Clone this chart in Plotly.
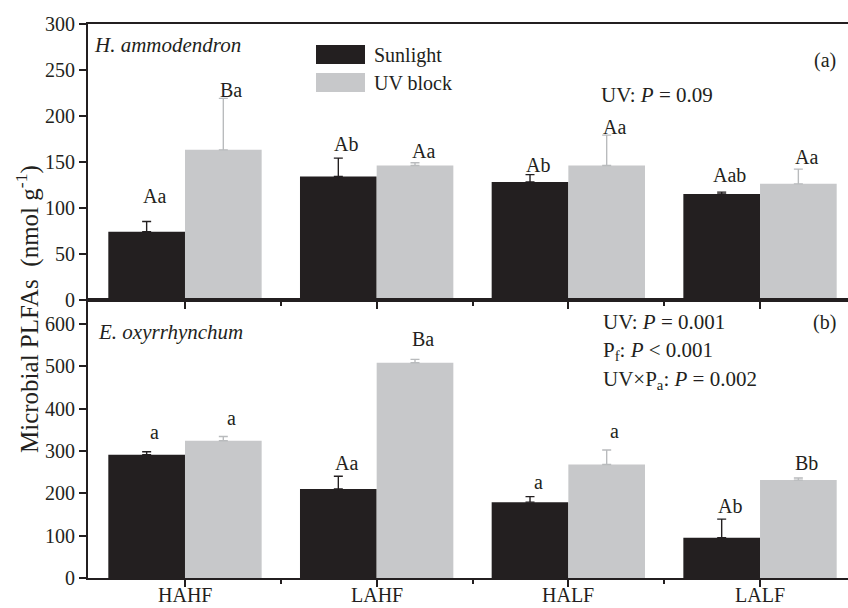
import plotly.graph_objects as go

# Treatment groups and measured microbial PLFAs (nmol g-1)
categories = ["HAHF", "LAHF", "HALF", "LALF"]

ha_sun = [74, 134, 128, 115]
ha_sun_err = [11, 20, 8, 2]
ha_uv = [163, 146, 146, 126]
ha_uv_err = [56, 3, 33, 16]

eo_sun = [291, 210, 179, 95]
eo_sun_err = [7, 30, 13, 44]
eo_uv = [324, 508, 268, 231]
eo_uv_err = [10, 8, 34, 5]

# Significance letters above each bar
ha_sun_letters = ["Aa", "Ab", "Ab", "Aab"]
ha_uv_letters = ["Ba", "Aa", "Aa", "Aa"]
eo_sun_letters = ["a", "Aa", "a", "Ab"]
eo_uv_letters = ["a", "Ba", "a", "Bb"]

# ---- styling / layout ----
W, H = 848, 608
ML, MR, MT, MB = 88, 0, 24, 30
PW, PH = W - ML - MR, H - MT - MB
SPLIT = 0.5025

DARK = "#231f20"
GREY = "#c7c8ca"
GREY_ERR = "#b9bbbd"
FONT = "Liberation Serif, Times New Roman, serif"

# pixel gaps between the error-bar tip and the centre of each letter label
ha_sun_gap = [26, 14, 10, 17]
ha_uv_gap = [8, 12, 8, 12]
eo_sun_gap = [20, 13, 15, 13]
eo_uv_gap = [18, 20, 19, 15]

xpos = list(range(len(categories)))


def px(x, y):
    """Convert page pixels to paper coordinates."""
    return (x - ML) / PW, (MT + PH - y) / PH


def bar(vals, errs, color, ecolor, name, xa, ya):
    return go.Bar(
        x=xpos, y=vals, name=name, marker=dict(color=color, line=dict(width=0)),
        error_y=dict(type="data", array=errs, arrayminus=[0] * len(errs),
                     symmetric=False, color=ecolor, thickness=1.4, width=4.5),
        xaxis=xa, yaxis=ya, showlegend=False,
    )


fig = go.Figure()
fig.add_trace(bar(ha_sun, ha_sun_err, DARK, DARK, "Sunlight", "x", "y"))
fig.add_trace(bar(ha_uv, ha_uv_err, GREY, GREY_ERR, "UV block", "x", "y"))
fig.add_trace(bar(eo_sun, eo_sun_err, DARK, DARK, "Sunlight", "x2", "y2"))
fig.add_trace(bar(eo_uv, eo_uv_err, GREY, GREY_ERR, "UV block", "x2", "y2"))

annotations = []
BAR_OFF = 0.2


def letters(vals, errs, labels, gaps, side, xref, yref):
    for i, (v, e, t, g) in enumerate(zip(vals, errs, labels, gaps)):
        annotations.append(dict(
            x=i + side * BAR_OFF, y=v + e, xref=xref, yref=yref, text=t,
            showarrow=False, xanchor="center", yanchor="middle",
            xshift=8, yshift=g, font=dict(family=FONT, size=20, color=DARK),
        ))


letters(ha_sun, ha_sun_err, ha_sun_letters, ha_sun_gap, -1, "x", "y")
letters(ha_uv, ha_uv_err, ha_uv_letters, ha_uv_gap, 1, "x", "y")
letters(eo_sun, eo_sun_err, eo_sun_letters, eo_sun_gap, -1, "x2", "y2")
letters(eo_uv, eo_uv_err, eo_uv_letters, eo_uv_gap, 1, "x2", "y2")

# category names under the lower panel
for i, c in enumerate(categories):
    annotations.append(dict(
        x=i, y=px(0, 607)[1], xref="x2", yref="paper", text=c,
        showarrow=False, xanchor="center", yanchor="bottom", borderpad=0,
        font=dict(family=FONT, size=20, color=DARK),
    ))


def note(text, x, y, size=21, xanchor="left", italic=False, angle=0):
    px_, py_ = px(x, y)
    annotations.append(dict(
        x=px_, y=py_, xref="paper", yref="paper", text=text, showarrow=False,
        xanchor=xanchor, yanchor="middle", textangle=angle,
        font=dict(family=FONT, size=size, color=DARK,
                  style="italic" if italic else "normal"),
    ))


note("H. ammodendron", 92, 45, size=21, italic=True)
note("E. oxyrrhynchum", 96, 332, size=21, italic=True)
note("(a)", 838, 61, size=20, xanchor="right")
note("(b)", 838, 322, size=20, xanchor="right")
note("UV: <i>P</i> = 0.09", 599, 95)
note("UV: <i>P</i> = 0.001", 601, 322)
note("P<sub>f</sub>: <i>P</i> &lt; 0.001", 601, 351)
note("UV×P<sub>a</sub>: <i>P</i> = 0.002", 601, 380)
note("Microbial PLFAs  (nmol g<sup>-1</sup>)", 27, 309, size=25,
     xanchor="center", angle=-90)
note("Sunlight", 372, 55, size=20)
note("UV block", 372, 83, size=20)

shapes = []
for (y0, y1, c) in [(45, 64, DARK), (73, 92, GREY)]:
    x0p, y0p = px(316, y1)
    x1p, y1p = px(365, y0)
    shapes.append(dict(type="rect", xref="paper", yref="paper",
                       x0=x0p, x1=x1p, y0=y0p, y1=y1p,
                       fillcolor=c, line=dict(width=0)))

xcommon = dict(
    range=[-0.506, 3.459], showline=True, linecolor=DARK, linewidth=2,
    mirror=True, ticks="outside", ticklen=7, tickwidth=1.6, tickcolor=DARK,
    tickvals=xpos, showticklabels=False, showgrid=False, zeroline=False,
    minor=dict(tickvals=[0.5, 1.5, 2.5], ticks="outside", ticklen=4,
               tickwidth=1.6, tickcolor=DARK, showgrid=False),
    fixedrange=True,
)
ycommon = dict(
    showline=True, linecolor=DARK, linewidth=2, ticks="outside", ticklen=7,
    tickwidth=1.6, tickcolor=DARK, showgrid=False, zeroline=False,
    tickfont=dict(family=FONT, size=20, color=DARK), fixedrange=True,
)

fig.update_layout(
    width=W, height=H,
    margin=dict(l=ML, r=MR, t=MT, b=MB, autoexpand=False),
    paper_bgcolor="white", plot_bgcolor="white",
    barmode="group", bargap=0.2, bargroupgap=0,
    xaxis=dict(**xcommon, anchor="y"),
    xaxis2=dict(**xcommon, anchor="y2", matches="x"),
    yaxis=dict(**ycommon, domain=[SPLIT, 1], range=[0, 300], dtick=50,
               anchor="x"),
    yaxis2=dict(**ycommon, domain=[0, SPLIT], range=[0, 657],
                tickvals=[0, 100, 200, 300, 400, 500, 600], anchor="x2"),
    annotations=annotations, shapes=shapes, showlegend=False,
)

fig.write_html("out.html")
